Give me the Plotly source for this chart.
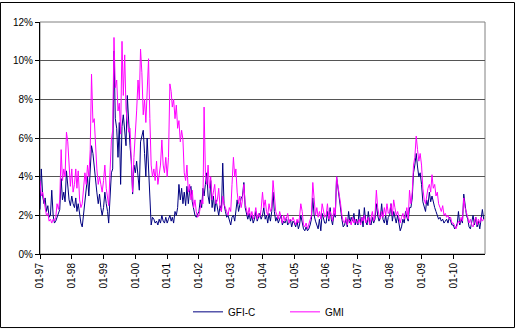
import plotly.graph_objects as go
import pandas as pd

# semi-monthly observations (1st and 16th of each month), Jan 1997 - Dec 2010, in %
years = list(range(1997, 2011))
tick_labels = ["01-97", "01-98", "01-99", "01-00", "01-01", "01-02", "01-03",
               "01-04", "01-05", "01-06", "01-07", "01-08", "01-09", "01-10"]

gfic = [
    # 1997
    2.3, 4.4, 3.0, 2.6, 2.9, 2.2, 2.5, 1.9, 2.0, 3.3, 2.0, 1.6, 1.7, 1.9, 2.0, 2.3, 3.9, 2.8, 3.2, 2.7, 4.3, 3.3, 2.8, 2.5,
    # 1998
    3.0, 2.6, 2.4, 2.9, 2.2, 2.6, 2.0, 1.6, 1.4, 2.0, 2.6, 3.3, 4.0, 3.0, 4.8, 5.6, 5.2, 4.4, 4.0, 3.2, 2.6, 3.1, 2.4, 2.0,
    # 1999
    2.4, 3.2, 2.6, 2.2, 1.6, 2.8, 4.2, 4.4, 10.5, 7.0, 6.5, 5.0, 6.8, 3.6, 6.6, 7.2, 6.2, 5.6, 8.2, 6.5, 5.6, 4.8, 3.1, 4.6,
    # 2000
    4.2, 4.8, 3.8, 3.3, 5.8, 6.1, 6.4, 5.2, 4.0, 6.0, 4.5, 2.3, 1.5, 1.9, 1.8, 1.6, 1.7, 1.5, 1.8, 1.6, 2.0, 1.7, 1.6, 1.9,
    # 2001
    1.6, 1.8, 2.0, 1.7, 1.9, 1.6, 2.2, 2.0, 2.4, 3.6, 2.8, 3.4, 2.6, 3.2, 2.5, 3.5, 2.6, 3.3, 3.5, 2.7, 2.3, 2.0, 1.9, 2.1,
    # 2002
    2.2, 2.8, 2.4, 3.4, 3.0, 3.6, 4.2, 3.0, 2.6, 3.8, 2.4, 3.0, 2.2, 2.8, 2.3, 2.0, 2.5, 2.2, 4.7, 2.6, 2.2, 1.9, 2.0, 1.8,
    # 2003
    1.5, 1.9, 2.0, 1.7, 2.4, 2.8, 2.2, 2.6, 2.9, 3.0, 3.7, 2.4, 2.0, 1.8, 2.1, 1.7, 2.0, 1.6, 1.8, 2.2, 1.7, 1.9, 2.1, 1.8,
    # 2004
    2.0, 2.4, 1.8, 2.0, 1.6, 2.1, 1.7, 2.2, 3.2, 2.2, 1.7, 1.9, 1.6, 1.8, 2.0, 1.5, 1.7, 1.6, 1.9, 1.5, 1.6, 1.8, 1.4, 1.7,
    # 2005
    1.6, 1.4, 1.7, 1.3, 1.5, 2.0, 1.6, 1.3, 1.2, 1.4, 1.2, 1.3, 1.5, 1.8, 2.9, 2.0, 1.7, 1.5, 1.3, 1.8, 1.2, 2.1, 1.9, 1.6,
    # 2006
    1.6, 2.2, 1.7, 2.4, 1.8, 1.5, 2.1, 1.9, 4.0, 3.4, 2.9, 2.3, 1.8, 1.4, 1.5, 1.8, 1.4, 2.2, 1.6, 1.9, 1.7, 2.1, 1.5, 1.8,
    # 2007
    1.5, 2.3, 1.6, 1.9, 1.4, 2.4, 1.7, 1.5, 2.2, 1.6, 1.5, 1.9, 1.6, 1.8, 2.6, 2.0, 1.7, 1.9, 2.6, 1.8, 1.6, 2.0, 1.5, 1.9,
    # 2008
    2.0, 2.6, 1.7, 2.2, 1.8, 1.6, 2.0, 1.5, 1.2, 1.4, 1.8, 1.6, 2.2, 1.9, 1.7, 2.4, 2.4, 2.9, 4.2, 4.6, 5.2, 4.5, 4.0, 4.2,
    # 2009
    3.6, 2.7, 2.4, 2.2, 2.8, 2.5, 3.2, 2.7, 3.0, 2.6, 2.4, 2.2, 2.0, 1.8, 1.9, 1.7, 1.8, 1.6, 1.7, 1.8, 1.6, 1.9, 1.7, 1.5,
    # 2010
    1.5, 1.3, 1.4, 1.6, 2.2, 1.5, 1.8, 1.6, 3.1, 2.6, 2.0, 1.8, 1.4, 1.3, 1.6, 2.0, 1.5, 1.9, 1.4, 1.7, 1.3, 1.9, 2.3, 1.8,
]

gmi = [
    # 1997
    3.8, 3.0, 3.2, 2.6, 2.4, 2.0, 2.1, 1.7, 1.8, 1.6, 1.8, 1.7, 1.9, 2.6, 2.3, 2.8, 5.4, 3.8, 4.4, 4.0, 6.3, 5.8, 4.6, 3.5,
    # 1998
    4.4, 3.2, 3.6, 4.4, 3.4, 4.3, 2.8, 2.4, 2.6, 3.6, 4.2, 3.6, 4.6, 4.0, 5.4, 9.3, 6.8, 7.0, 5.2, 4.4, 3.6, 4.0, 3.6, 3.2,
    # 1999
    3.8, 4.6, 3.4, 3.0, 2.5, 4.2, 5.9, 6.4, 11.2, 8.6, 9.0, 7.4, 7.8, 6.2, 11.0, 8.2, 10.3, 7.5, 7.0, 6.3, 6.5, 4.8, 3.2, 5.0,
    # 2000
    6.0, 7.4, 9.0, 8.0, 10.6, 9.4, 7.2, 8.0, 6.8, 8.6, 10.1, 7.0, 4.6, 4.0, 4.4, 3.8, 4.8, 3.6, 4.2, 4.6, 5.9, 4.6, 4.2, 5.0,
    # 2001
    4.0, 5.0, 8.8, 8.4, 7.6, 8.0, 7.0, 7.7, 6.5, 6.9, 5.8, 6.4, 5.9, 4.2, 3.8, 4.6, 3.2, 3.6, 2.8, 3.3, 2.4, 2.8, 2.2, 1.9,
    # 2002
    2.0, 2.4, 2.8, 2.6, 7.6, 4.2, 3.6, 4.6, 3.4, 4.0, 2.8, 3.2, 3.6, 2.6, 2.8, 3.4, 2.4, 2.2, 3.0, 2.6, 2.4, 2.2, 2.0, 2.4,
    # 2003
    2.2, 3.6, 5.0, 4.0, 4.4, 3.2, 2.6, 3.0, 2.4, 2.8, 3.6, 2.6, 2.2, 2.0, 2.4, 1.9, 2.2, 1.8, 2.0, 2.4, 1.8, 2.1, 1.9, 2.3,
    # 2004
    3.2, 2.4, 2.8, 2.2, 2.0, 2.6, 2.2, 2.4, 3.8, 2.8, 2.2, 2.0, 1.8, 2.2, 1.9, 1.6, 2.0, 1.7, 1.8, 2.1, 1.6, 1.8, 1.7, 1.9,
    # 2005
    1.7, 1.5, 1.8, 1.6, 1.9, 2.6, 2.2, 1.5, 1.4, 1.6, 1.3, 1.5, 1.7, 2.0, 3.7, 2.6, 2.0, 2.4, 1.9, 2.2, 1.8, 2.6, 2.2, 1.9,
    # 2006
    2.0, 2.6, 1.8, 2.2, 2.0, 1.7, 2.4, 2.0, 4.0, 3.6, 3.2, 2.6, 2.0, 1.7, 1.6, 1.9, 1.5, 1.8, 1.7, 1.5, 1.9, 1.6, 1.8, 1.6,
    # 2007
    1.6, 1.8, 1.5, 1.9, 1.7, 2.0, 1.6, 1.8, 1.9, 1.5, 1.8, 2.2, 1.7, 2.0, 3.3, 2.4, 2.0, 1.8, 2.2, 1.9, 2.4, 2.0, 2.6, 2.1,
    # 2008
    2.2, 2.6, 2.0, 2.8, 2.4, 2.0, 2.2, 1.8, 1.6, 1.9, 2.1, 1.8, 2.0, 2.4, 1.8, 3.3, 2.6, 3.2, 4.6, 5.0, 6.1, 5.4, 4.8, 5.2,
    # 2009
    4.6, 3.4, 2.8, 2.6, 3.0, 3.4, 3.6, 3.2, 4.1, 3.4, 3.6, 3.0, 3.2, 2.6, 2.4, 2.2, 2.5, 2.0, 2.1, 1.9, 2.0, 1.8, 1.9, 1.6,
    # 2010
    1.6, 1.4, 1.3, 1.5, 1.7, 1.6, 1.9, 1.7, 2.9, 2.4, 2.2, 1.9, 1.6, 1.8, 1.5, 1.4, 1.7, 1.9, 1.5, 1.8, 1.6, 1.9, 1.7, 1.8,
]

dates = [pd.Timestamp(y, m, d) for y in years for m in range(1, 13) for d in (1, 16)]
tick_dates = [pd.Timestamp(y, 1, 1) for y in years]

fig = go.Figure()
fig.add_trace(go.Scatter(x=dates, y=[v / 100 for v in gfic], mode="lines", name="GFI-C",
                         line=dict(color="#000080", width=1)))
fig.add_trace(go.Scatter(x=dates, y=[v / 100 for v in gmi], mode="lines", name="GMI",
                         line=dict(color="#FF00FF", width=1)))

font = dict(family="Liberation Sans, Arial, sans-serif", size=10, color="#000000")

fig.update_layout(
    width=523, height=330,
    margin=dict(l=40, r=38, t=22, b=76, autoexpand=False),
    paper_bgcolor="white", plot_bgcolor="white",
    font=font,
    showlegend=True,
    legend=dict(orientation="h", x=0.3326, xanchor="left",
                yref="container", y=0.055, yanchor="middle",
                font=font, bgcolor="rgba(0,0,0,0)", entrywidth=52),
    xaxis=dict(
        type="date", range=[pd.Timestamp(1997, 1, 1), pd.Timestamp(2010, 12, 31)],
        tickvals=tick_dates, ticktext=tick_labels, tickangle=-90, automargin=False,
        showgrid=False, showline=True, linecolor="#000000", linewidth=1,
        ticks="outside", ticklen=4, tickcolor="#000000", tickfont=font, zeroline=False,
    ),
    yaxis=dict(
        range=[0, 0.12], tickvals=[0, 0.02, 0.04, 0.06, 0.08, 0.10, 0.12], automargin=False,
        tickformat=".0%", showgrid=True, gridcolor="#555555", gridwidth=1,
        showline=True, linecolor="#000000", linewidth=1,
        ticks="outside", ticklen=4, tickcolor="#000000", tickfont=font, zeroline=False,
    ),
    shapes=[
        dict(type="rect", xref="paper", yref="paper", x0=0, x1=1, y0=0, y1=1,
             line=dict(color="#808080", width=1), layer="below"),
        dict(type="rect", xref="paper", yref="paper", x0=-0.0888, x1=1.0663, y0=-0.317, y1=1.084,
             line=dict(color="#000000", width=1)),
    ],
)

fig.write_html("out.html")
